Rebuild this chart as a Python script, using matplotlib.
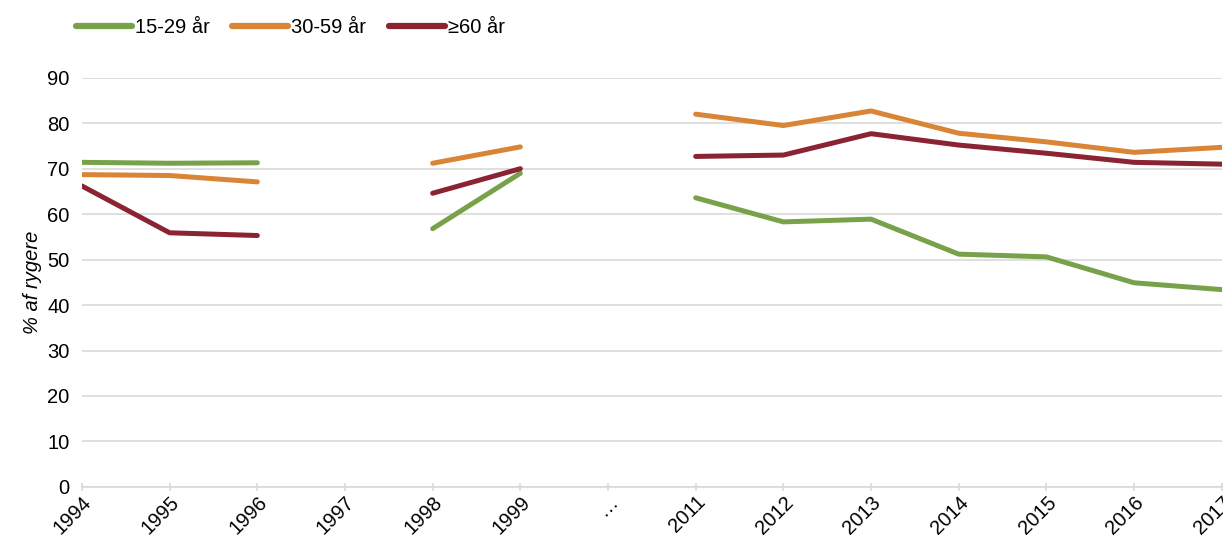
import numpy as np
import matplotlib.pyplot as plt

plt.rcParams['font.family'] = ['Liberation Sans', 'DejaVu Sans']

years = ["1994", "1995", "1996", "1997", "1998", "1999", "…",
         "2011", "2012", "2013", "2014", "2015", "2016", "2017"]
nan = np.nan
age_15_29 = [71.4, 71.2, 71.3, nan, 56.8, 69.0, nan,
             63.6, 58.3, 58.9, 51.2, 50.6, 44.9, 43.4]
age_30_59 = [68.7, 68.5, 67.1, nan, 71.2, 74.8, nan,
             82.0, 79.5, 82.7, 77.8, 75.9, 73.6, 74.7]
age_60 = [66.2, 55.9, 55.3, nan, 64.6, 70.0, nan,
          72.7, 73.0, 77.7, 75.2, 73.4, 71.4, 71.0]
series_names = ["15-29 år", "30-59 år", "≥60 år"]
colors = ["#78A24A", "#D98535", "#8A2432"]

fs = 14.5
fig = plt.figure(figsize=(12.23, 5.44), dpi=100)
ax = fig.add_axes([0.067, 0.105, 0.932, 0.752])

x = np.arange(len(years))
for vals, name, c in zip([age_15_29, age_30_59, age_60], series_names, colors):
    ax.plot(x, vals, color=c, lw=3.6, label=name, solid_capstyle='round')

ax.set_xlim(0, len(years) - 1)
ax.set_ylim(0, 90)
ax.set_yticks(range(0, 91, 10))
ax.set_xticks(x)
ax.set_xticklabels(years, rotation=45, ha='right', rotation_mode='anchor')
ax.tick_params(axis='y', length=0, labelsize=fs, pad=9)
ax.tick_params(axis='x', length=6, width=1.2, color='#d9d9d9', direction='inout',
               labelsize=fs, pad=1)
ax.grid(axis='y', color='#d9d9d9', lw=1.2)
ax.set_axisbelow(True)
for s in ['top', 'right', 'left']:
    ax.spines[s].set_visible(False)
ax.spines['bottom'].set_color('#d9d9d9')
ax.spines['bottom'].set_linewidth(1.2)
ax.set_ylabel('% af rygere', fontsize=fs, fontstyle='italic', labelpad=4)

leg = fig.legend(loc='upper left', bbox_to_anchor=(0.047, 1.0), ncol=3, frameon=False,
                 fontsize=fs, handlelength=2.8, handletextpad=0.15, columnspacing=1.1)
for line in leg.get_lines():
    line.set_linewidth(4.5)

fig.savefig('out.png', dpi=100)
